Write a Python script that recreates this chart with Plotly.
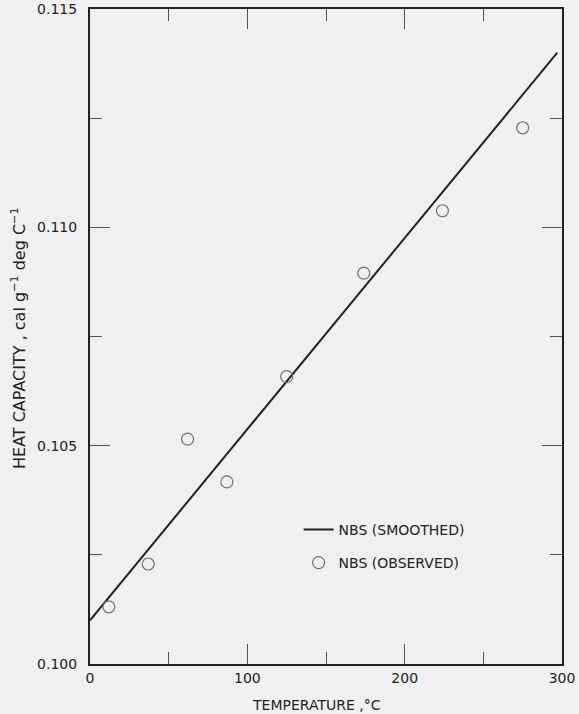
import plotly.graph_objects as go

# Data
smooth_T = [0, 297]
smooth_cp = [0.1010, 0.1140]

obs_T = [12, 37, 62, 87, 125, 174, 224, 275]
obs_cp = [0.10131, 0.10229, 0.10515, 0.10417, 0.10658, 0.10895, 0.11038, 0.11228]

x_ticks = [0, 100, 200, 300]
y_ticks = [0.100, 0.105, 0.110, 0.115]
y_ticklabels = ["0.100", "0.105", "0.110", "0.115"]

BG = "#f0f0f0"
INK = "#222222"
FONT = "DejaVu Sans"

fig = go.Figure()
fig.add_trace(go.Scatter(
    x=smooth_T, y=smooth_cp, mode="lines",
    line=dict(color=INK, width=2),
    name="NBS (SMOOTHED)", legend="legend",
))
fig.add_trace(go.Scatter(
    x=obs_T, y=obs_cp, mode="markers",
    marker=dict(symbol="circle-open", size=12, color="#707070", line=dict(width=1.2, color="#707070")),
    name="NBS (OBSERVED)", legend="legend2",
))

axis_common = dict(
    showline=True, linecolor=INK, linewidth=2, mirror="ticks",
    ticks="inside", ticklen=20, tickwidth=1, tickcolor="#555555",
    showgrid=False, zeroline=False, automargin=False,
    tickfont=dict(family=FONT, size=14, color=INK),
)

fig.update_xaxes(
    range=[0, 300], tickvals=x_ticks,
    minor=dict(ticks="inside", ticklen=12, tickwidth=1, tickcolor="#555555", dtick=50, tick0=0),
    **axis_common,
)
fig.update_yaxes(
    range=[0.100, 0.115], tickvals=y_ticks, ticktext=y_ticklabels,
    ticklabelstandoff=8,
    minor=dict(ticks="inside", ticklen=12, tickwidth=1, tickcolor="#555555", dtick=0.0025, tick0=0.1),
    **axis_common,
)

legend_style = dict(
    bgcolor="rgba(0,0,0,0)", borderwidth=0,
    font=dict(family=FONT, size=14, color=INK),
    xanchor="left", yanchor="middle", itemwidth=30,
)

fig.update_layout(
    template="none",
    width=579, height=714,
    margin=dict(l=90, r=17, t=9, b=50),
    paper_bgcolor=BG, plot_bgcolor=BG,
    showlegend=True,
    legend=dict(x=0.442, y=(664 - 530) / 655, **legend_style),
    legend2=dict(x=0.442, y=(664 - 563) / 655, **legend_style),
    annotations=[
        dict(text="TEMPERATURE ,°C", xref="paper", yref="paper",
             x=(316 - 90) / 472, y=-(705 - 664) / 655, xanchor="center", yanchor="middle",
             showarrow=False, font=dict(family=FONT, size=14, color=INK)),
        dict(text="HEAT CAPACITY , cal g<sup>−1</sup> deg C<sup>−1</sup>", xref="paper", yref="paper",
             x=-(90 - 18) / 472, y=(664 - 338) / 655, xanchor="center", yanchor="middle",
             textangle=-90, showarrow=False, font=dict(family=FONT, size=16, color=INK)),
    ],
)

fig.write_html(
    "out.html",
    config={"displayModeBar": False},
    post_script="document.body.style.margin='0';document.body.style.overflow='hidden';document.body.style.background='#f0f0f0';",
)
